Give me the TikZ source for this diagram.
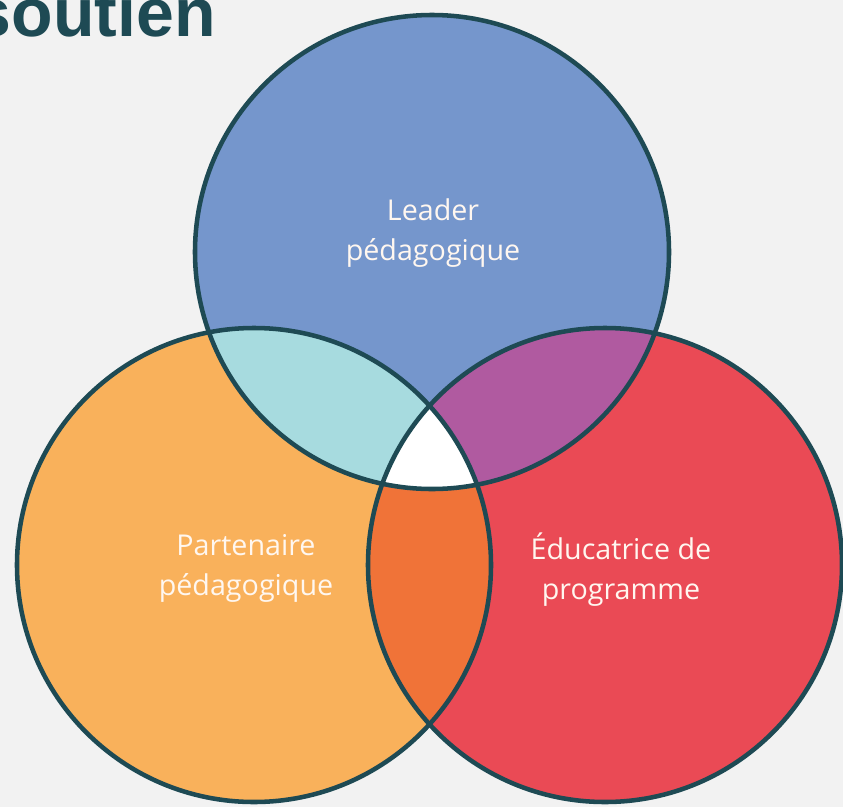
\documentclass[tikz,border=0pt]{standalone}
\usepackage{fontspec}
\setmainfont{Open Sans}
\newfontfamily\titlefont{Liberation Sans}
\definecolor{bgc}{HTML}{F2F2F2}
\definecolor{bluec}{HTML}{7596CC}
\definecolor{orangec}{HTML}{F9B15B}
\definecolor{redc}{HTML}{EA4A55}
\definecolor{tealc}{HTML}{A7DBDF}
\definecolor{purplec}{HTML}{B05AA0}
\definecolor{darkorangec}{HTML}{F07338}
\definecolor{linec}{HTML}{1E4A54}
\tikzset{
  ring/.style={draw=linec, line width=3.4pt},
  lbl/.style={text=white!94!orange, align=center, font=\fontsize{21.5}{30}\selectfont, inner sep=0pt},
}
\begin{document}
\begin{tikzpicture}[x=0.75pt,y=-0.75pt]
\useasboundingbox (0,0) rectangle (843,807);
\fill[bgc] (0,0) rectangle (843,807);
\clip (0,0) rectangle (843,807);
\coordinate (T) at (432,252);
\coordinate (L) at (254,565);
\coordinate (R) at (605,565);
\def\rr{177.75pt}
% base fills
\fill[bluec] (T) circle[radius=\rr];
\fill[orangec] (L) circle[radius=\rr];
\fill[redc] (R) circle[radius=\rr];
% pairwise
\begin{scope}
  \clip (T) circle[radius=\rr];
  \fill[tealc] (L) circle[radius=\rr];
  \fill[purplec] (R) circle[radius=\rr];
\end{scope}
\begin{scope}
  \clip (L) circle[radius=\rr];
  \fill[darkorangec] (R) circle[radius=\rr];
\end{scope}
\begin{scope}
  \clip (T) circle[radius=\rr];
  \clip (L) circle[radius=\rr];
  \fill[white] (R) circle[radius=\rr];
\end{scope}
% outlines
\draw[ring] (T) circle[radius=\rr];
\draw[ring] (L) circle[radius=\rr];
\draw[ring] (R) circle[radius=\rr];
% labels
\node[lbl] (tl) at (433,233) {Leader\\pédagogique};
\node[lbl] (ll) at (246,568) {Partenaire\\pédagogique};
\node[lbl] (rl) at (621,570) {Éducatrice de\\programme};
% title
\node[anchor=base east, inner sep=0pt, text=linec, font=\titlefont\bfseries\fontsize{51}{56}\selectfont] (title) at (216,36) {soutien};
\end{tikzpicture}
\end{document}
